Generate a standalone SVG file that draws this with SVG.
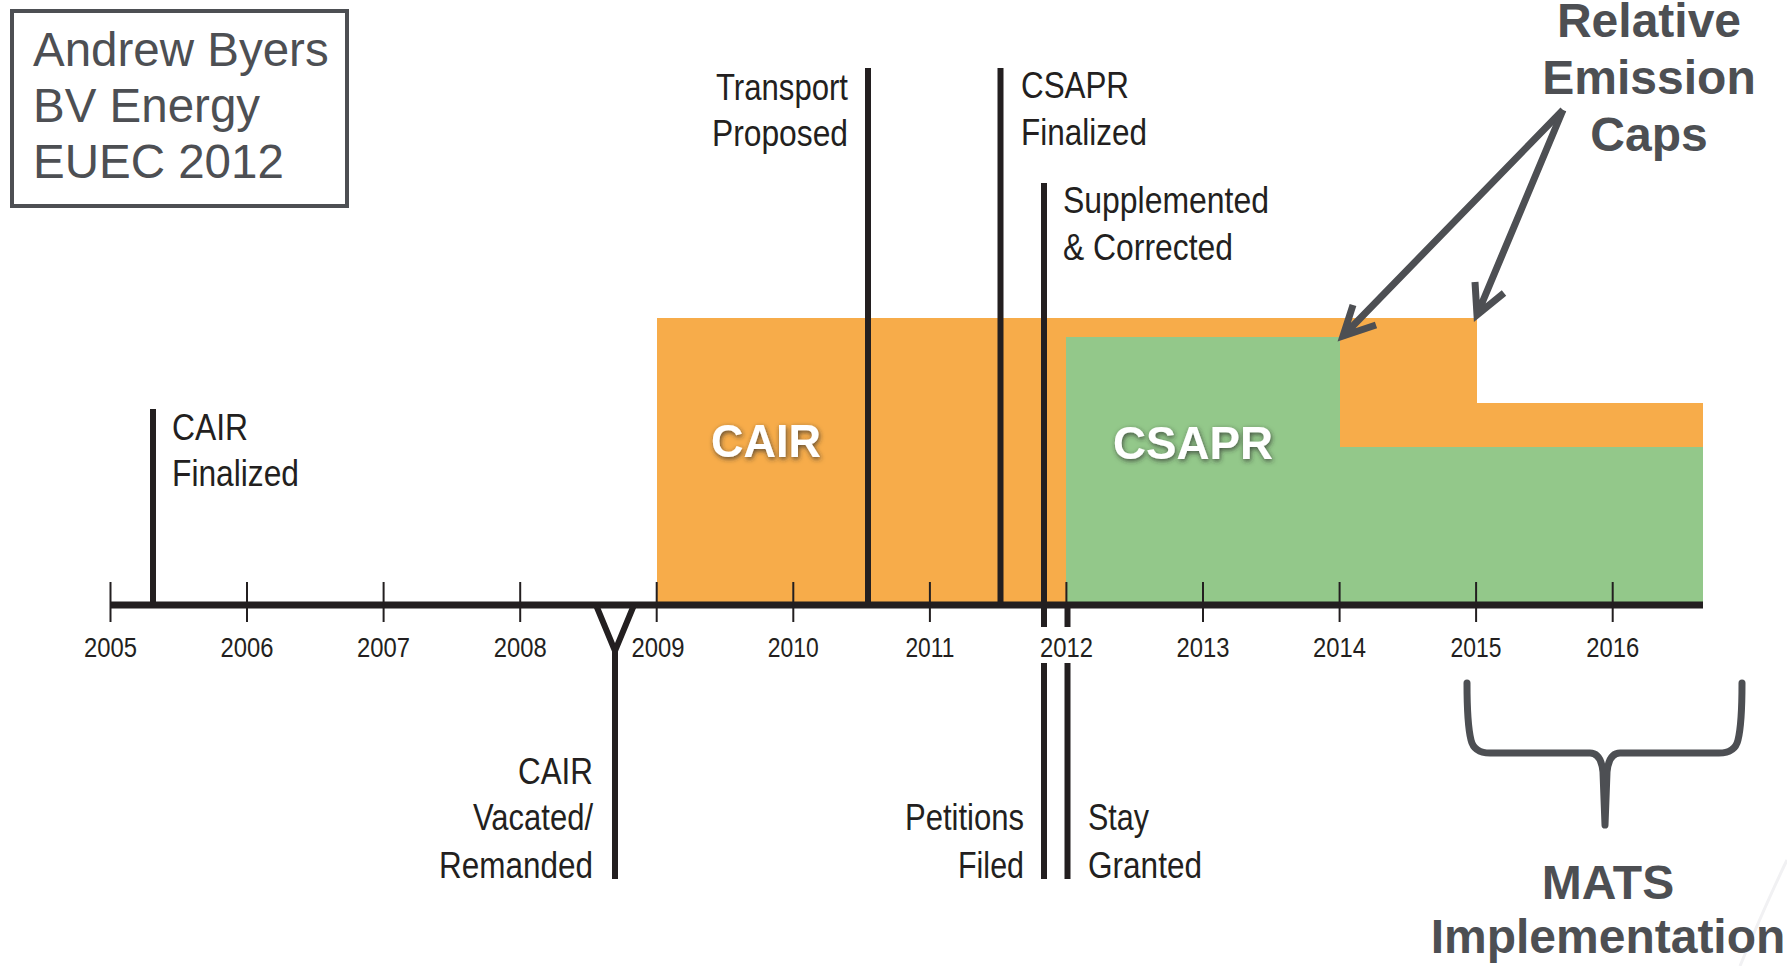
<svg xmlns="http://www.w3.org/2000/svg" width="1787" height="966" viewBox="0 0 1787 966">
  <style>
    .lbl { font-family: "Liberation Sans", Arial, sans-serif; font-size: 36px; fill: #231f20; }
    .yr { font-family: "Liberation Sans", Arial, sans-serif; font-size: 28px; fill: #231f20; text-anchor: middle; }
    .big { font-family: "Liberation Sans", Arial, sans-serif; font-size: 47px; font-weight: bold; fill: #ffffff; text-anchor: middle; }
    .note { font-family: "Liberation Sans", Arial, sans-serif; font-size: 48px; font-weight: bold; fill: #4d4f53; text-anchor: middle; }
    .author { font-family: "Liberation Sans", Arial, sans-serif; font-size: 47.5px; fill: #4d4f53; }
    .ev { stroke: #231f20; stroke-width: 6; fill: none; }
    .tick { stroke: #231f20; stroke-width: 2; }
    .callout { stroke: #4d4f53; stroke-width: 7; fill: none; }
  </style>
  <defs>
    <filter id="glow" x="-20%" y="-40%" width="140%" height="180%">
      <feGaussianBlur in="SourceAlpha" stdDeviation="2.5"/>
      <feOffset dx="1" dy="2" result="b"/>
      <feFlood flood-color="#2a2a2a" flood-opacity="0.75"/>
      <feComposite in2="b" operator="in"/>
      <feMerge>
        <feMergeNode/>
        <feMergeNode in="SourceGraphic"/>
      </feMerge>
    </filter>
  </defs>

  <rect width="1787" height="966" fill="#ffffff"/>

  <!-- faint background swoosh -->
  <path d="M1740,966 C1755,930 1770,895 1787,860" stroke="#f1f1f3" stroke-width="3" fill="none"/>

  <!-- author box -->
  <g id="author">
    <rect x="12" y="11" width="335" height="195" fill="#ffffff" stroke="#4d4f53" stroke-width="4"/>
    <text class="author" x="33" y="66">Andrew Byers</text>
    <text class="author" x="33" y="122">BV Energy</text>
    <text class="author" x="33" y="178">EUEC 2012</text>
  </g>

  <!-- programme periods -->
  <g id="cair-period">
    <path d="M657,318 H1477 V403 H1703 V605 H657 Z" fill="#f7ac4a"/>
  </g>
  <g id="csapr-period">
    <path d="M1066,337 H1340 V447 H1703 V605 H1066 Z" fill="#93c88a"/>
  </g>
  <text class="big" x="766" y="457" textLength="110" lengthAdjust="spacingAndGlyphs" filter="url(#glow)">CAIR</text>
  <text class="big" x="1193" y="459" textLength="160" lengthAdjust="spacingAndGlyphs" filter="url(#glow)">CSAPR</text>

  <!-- time axis -->
  <g id="axis">
    <line x1="110" y1="605" x2="1703" y2="605" stroke="#231f20" stroke-width="7"/>
    <g class="tick">
      <line x1="110.5" y1="582" x2="110.5" y2="622"/>
      <line x1="247" y1="582" x2="247" y2="622"/>
      <line x1="383.6" y1="582" x2="383.6" y2="622"/>
      <line x1="520.2" y1="582" x2="520.2" y2="622"/>
      <line x1="656.7" y1="582" x2="656.7" y2="622"/>
      <line x1="793.3" y1="582" x2="793.3" y2="622"/>
      <line x1="929.9" y1="582" x2="929.9" y2="622"/>
      <line x1="1066.4" y1="582" x2="1066.4" y2="622"/>
      <line x1="1203" y1="582" x2="1203" y2="622"/>
      <line x1="1339.6" y1="582" x2="1339.6" y2="622"/>
      <line x1="1476.1" y1="582" x2="1476.1" y2="622"/>
      <line x1="1612.7" y1="582" x2="1612.7" y2="622"/>
    </g>
    <text class="yr" x="110.5" y="657" textLength="53" lengthAdjust="spacingAndGlyphs">2005</text>
    <text class="yr" x="247" y="657" textLength="53" lengthAdjust="spacingAndGlyphs">2006</text>
    <text class="yr" x="383.6" y="657" textLength="53" lengthAdjust="spacingAndGlyphs">2007</text>
    <text class="yr" x="520.2" y="657" textLength="53" lengthAdjust="spacingAndGlyphs">2008</text>
    <text class="yr" x="658" y="657" textLength="53" lengthAdjust="spacingAndGlyphs">2009</text>
    <text class="yr" x="793.3" y="657" textLength="51" lengthAdjust="spacingAndGlyphs">2010</text>
    <text class="yr" x="929.9" y="657" textLength="49" lengthAdjust="spacingAndGlyphs">2011</text>
    <text class="yr" x="1066.4" y="657" textLength="53" lengthAdjust="spacingAndGlyphs">2012</text>
    <text class="yr" x="1203" y="657" textLength="53" lengthAdjust="spacingAndGlyphs">2013</text>
    <text class="yr" x="1339.6" y="657" textLength="53" lengthAdjust="spacingAndGlyphs">2014</text>
    <text class="yr" x="1476.1" y="657" textLength="51" lengthAdjust="spacingAndGlyphs">2015</text>
    <text class="yr" x="1612.7" y="657" textLength="53" lengthAdjust="spacingAndGlyphs">2016</text>
  </g>

  <!-- events -->
  <g id="cair-finalized">
    <line class="ev" x1="153" y1="409" x2="153" y2="605"/>
    <text class="lbl" x="172" y="440" textLength="76" lengthAdjust="spacingAndGlyphs">CAIR</text>
    <text class="lbl" x="172" y="486" textLength="127" lengthAdjust="spacingAndGlyphs">Finalized</text>
  </g>
  <g id="transport-proposed">
    <line class="ev" x1="868" y1="68" x2="868" y2="605"/>
    <text class="lbl" x="848" y="100" text-anchor="end" textLength="132" lengthAdjust="spacingAndGlyphs">Transport</text>
    <text class="lbl" x="848" y="146" text-anchor="end" textLength="136" lengthAdjust="spacingAndGlyphs">Proposed</text>
  </g>
  <g id="csapr-finalized">
    <line class="ev" x1="1000.5" y1="68" x2="1000.5" y2="605"/>
    <text class="lbl" x="1021" y="98" textLength="108" lengthAdjust="spacingAndGlyphs">CSAPR</text>
    <text class="lbl" x="1021" y="145" textLength="126" lengthAdjust="spacingAndGlyphs">Finalized</text>
  </g>
  <g id="supplemented">
    <line class="ev" x1="1044" y1="183" x2="1044" y2="627"/>
    <text class="lbl" x="1063" y="213" textLength="206" lengthAdjust="spacingAndGlyphs">Supplemented</text>
    <text class="lbl" x="1063" y="260" textLength="170" lengthAdjust="spacingAndGlyphs">&amp; Corrected</text>
  </g>
  <g id="cair-vacated">
    <path class="ev" d="M596,605 L615,651 L634,605 M615,651 V879" stroke-width="7"/>
    <text class="lbl" x="593" y="784" text-anchor="end" textLength="75" lengthAdjust="spacingAndGlyphs">CAIR</text>
    <text class="lbl" x="593" y="830" text-anchor="end" textLength="120" lengthAdjust="spacingAndGlyphs">Vacated/</text>
    <text class="lbl" x="593" y="878" text-anchor="end" textLength="154" lengthAdjust="spacingAndGlyphs">Remanded</text>
  </g>
  <g id="petitions-filed">
    <line class="ev" x1="1044" y1="663" x2="1044" y2="879"/>
    <text class="lbl" x="1024" y="830" text-anchor="end" textLength="119" lengthAdjust="spacingAndGlyphs">Petitions</text>
    <text class="lbl" x="1024" y="878" text-anchor="end" textLength="66" lengthAdjust="spacingAndGlyphs">Filed</text>
  </g>
  <g id="stay-granted">
    <line class="ev" x1="1067.5" y1="605" x2="1067.5" y2="627"/>
    <line class="ev" x1="1067.5" y1="663" x2="1067.5" y2="879"/>
    <text class="lbl" x="1088" y="830" textLength="61" lengthAdjust="spacingAndGlyphs">Stay</text>
    <text class="lbl" x="1088" y="878" textLength="114" lengthAdjust="spacingAndGlyphs">Granted</text>
  </g>

  <!-- call-outs -->
  <g id="emission-caps">
    <text class="note" x="1649" y="37">Relative</text>
    <text class="note" x="1649" y="94">Emission</text>
    <text class="note" x="1649" y="151">Caps</text>
  </g>
  <g id="mats">
    <text class="note" x="1608" y="899">MATS</text>
    <text class="note" x="1608" y="953">Implementation</text>
  </g>
  <g id="connectors">
    <path class="callout" d="M1563,110 L1343,336 M1353,305 L1343,336 L1376,325"/>
    <path class="callout" d="M1563,110 L1477,315 M1475,282 L1477,315 L1504,293"/>
    <path class="callout" stroke-linecap="round" stroke-linejoin="round"
          d="M1467,683 C1467,705 1468,728 1471,740 Q1474,753 1490,753 L1590,753 Q1601,753 1603,772 L1605,825
             M1742,683 C1742,705 1741,728 1738,740 Q1735,753 1719,753 L1620,753 Q1609,753 1607,772 L1605,825"/>
  </g>
</svg>
